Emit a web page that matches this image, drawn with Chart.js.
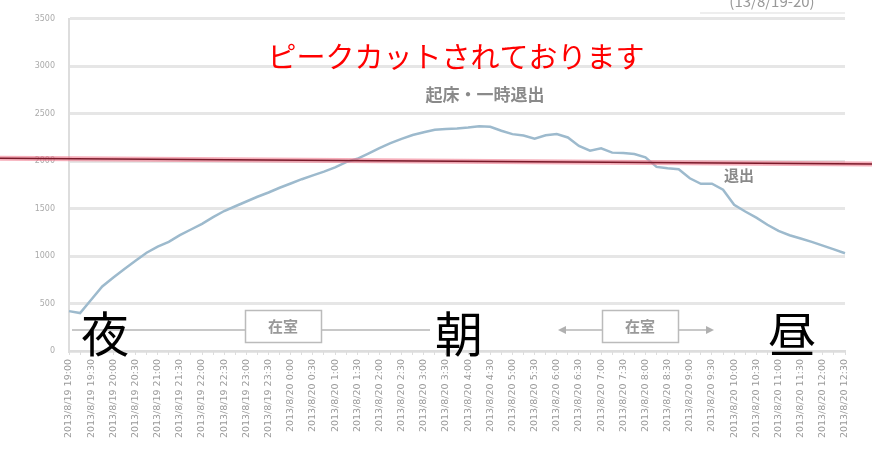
<!DOCTYPE html>
<html lang="ja">
<head>
  <meta charset="UTF-8">
  <title>ピークカット</title>
  <script src="https://cdn.jsdelivr.net/npm/chart.js"></script>
  <style>
    body { margin: 0; padding: 0; background: #fff; }
    .chart-container { width: 872px; height: 453px; }
  </style>
</head>
<body>
  <div class="chart-container">
    <canvas id="peakChart"></canvas>
  </div>

  <script>
    // 15分ごとの時刻
    const times = [
      '2013/8/19 19:00', '2013/8/19 19:15', '2013/8/19 19:30', '2013/8/19 19:45',
      '2013/8/19 20:00', '2013/8/19 20:15', '2013/8/19 20:30', '2013/8/19 20:45',
      '2013/8/19 21:00', '2013/8/19 21:15', '2013/8/19 21:30', '2013/8/19 21:45',
      '2013/8/19 22:00', '2013/8/19 22:15', '2013/8/19 22:30', '2013/8/19 22:45',
      '2013/8/19 23:00', '2013/8/19 23:15', '2013/8/19 23:30', '2013/8/19 23:45',
      '2013/8/20 0:00', '2013/8/20 0:15', '2013/8/20 0:30', '2013/8/20 0:45',
      '2013/8/20 1:00', '2013/8/20 1:15', '2013/8/20 1:30', '2013/8/20 1:45',
      '2013/8/20 2:00', '2013/8/20 2:15', '2013/8/20 2:30', '2013/8/20 2:45',
      '2013/8/20 3:00', '2013/8/20 3:15', '2013/8/20 3:30', '2013/8/20 3:45',
      '2013/8/20 4:00', '2013/8/20 4:15', '2013/8/20 4:30', '2013/8/20 4:45',
      '2013/8/20 5:00', '2013/8/20 5:15', '2013/8/20 5:30', '2013/8/20 5:45',
      '2013/8/20 6:00', '2013/8/20 6:15', '2013/8/20 6:30', '2013/8/20 6:45',
      '2013/8/20 7:00', '2013/8/20 7:15', '2013/8/20 7:30', '2013/8/20 7:45',
      '2013/8/20 8:00', '2013/8/20 8:15', '2013/8/20 8:30', '2013/8/20 8:45',
      '2013/8/20 9:00', '2013/8/20 9:15', '2013/8/20 9:30', '2013/8/20 9:45',
      '2013/8/20 10:00', '2013/8/20 10:15', '2013/8/20 10:30', '2013/8/20 10:45',
      '2013/8/20 11:00', '2013/8/20 11:15', '2013/8/20 11:30', '2013/8/20 11:45',
      '2013/8/20 12:00', '2013/8/20 12:15', '2013/8/20 12:30'
    ];

    const usage = [
      420, 400, 540, 680, 775, 865, 950, 1035, 1100, 1150,
      1220, 1280, 1340, 1410, 1475, 1525, 1575, 1625, 1670, 1720,
      1765, 1810, 1850, 1890, 1935, 1990, 2025, 2080, 2138, 2190,
      2235, 2275, 2305, 2330, 2340, 2345, 2355, 2368, 2362, 2320,
      2285, 2270, 2238, 2272, 2285, 2250, 2160, 2110, 2135, 2090,
      2085, 2075, 2040, 1940, 1925, 1915, 1820, 1762, 1762, 1700,
      1540, 1470, 1405, 1330, 1265, 1220, 1185, 1150, 1110, 1070,
      1030
    ];

    // 赤線（ピークカットのライン） 左端と右端の値
    const peakLine = [2030, 1970];

    const yTicks = [0, 500, 1000, 1500, 2000, 2500, 3000, 3500];

    const notes = {
      title: 'ピークカットされております',
      wake: '起床・一時退出',
      out: '退出',
      stay: '在室',
      period: '(13/8/19-20)',
      marks: ['夜', '朝', '昼']
    };

    const overlay = {
      id: 'overlay',
      afterDraw(chart) {
        const c = chart.ctx;
        const y = chart.scales.y;
        const W = chart.width;
        c.save();

        // 期間
        c.font = '15px "Noto Sans CJK JP"';
        c.fillStyle = '#999';
        c.textAlign = 'center';
        c.textBaseline = 'middle';
        c.fillText(notes.period, 772, 1);
        c.strokeStyle = '#ddd';
        c.lineWidth = 1;
        c.beginPath();
        c.moveTo(700, 13); c.lineTo(845, 13);
        c.stroke();

        // 赤線
        const y0 = y.getPixelForValue(peakLine[0]);
        const y1 = y.getPixelForValue(peakLine[1]);
        c.strokeStyle = 'rgba(240,120,140,0.6)';
        c.lineWidth = 5;
        c.beginPath(); c.moveTo(0, y0); c.lineTo(W, y1); c.stroke();
        c.strokeStyle = '#7a1a2a';
        c.lineWidth = 1.5;
        c.beginPath(); c.moveTo(0, y0); c.lineTo(W, y1); c.stroke();

        // 赤い見出し
        c.font = '29px "Noto Sans CJK JP"';
        c.fillStyle = '#ff0000';
        c.textAlign = 'center';
        c.textBaseline = 'middle';
        c.fillText(notes.title, 456, 57);

        // 注記
        c.font = 'bold 17px "Noto Sans CJK JP"';
        c.fillStyle = '#8a8a8a';
        c.fillText(notes.wake, 485, 95);
        c.font = 'bold 15px "Noto Sans CJK JP"';
        c.fillText(notes.out, 739, 175);

        // 在室の矢印
        c.strokeStyle = '#c8c8c8';
        c.lineWidth = 2;
        c.beginPath(); c.moveTo(72, 330); c.lineTo(430, 330); c.stroke();
        c.beginPath(); c.moveTo(562, 330); c.lineTo(712, 330); c.stroke();
        c.fillStyle = '#b0b0b0';
        c.beginPath(); c.moveTo(558, 330); c.lineTo(566, 326); c.lineTo(566, 334); c.fill();
        c.beginPath(); c.moveTo(714, 330); c.lineTo(706, 326); c.lineTo(706, 334); c.fill();

        [[245, 310], [602, 310]].forEach(([bx, by]) => {
          c.fillStyle = '#fff';
          c.fillRect(bx, by, 76, 32);
          c.strokeStyle = '#bbb';
          c.lineWidth = 1.5;
          c.strokeRect(bx + 0.5, by + 0.5, 76, 32);
          c.fillStyle = '#999';
          c.font = 'bold 15px "Noto Sans CJK JP"';
          c.fillText(notes.stay, bx + 38, by + 16);
        });

        // 夜・朝・昼
        c.font = '48px "Noto Sans CJK JP"';
        c.fillStyle = '#000';
        c.fillText(notes.marks[0], 105, 334);
        c.fillText(notes.marks[1], 459, 334);
        c.fillText(notes.marks[2], 792, 334);

        c.restore();
      }
    };

    const ctx = document.getElementById('peakChart').getContext('2d');
    new Chart(ctx, {
      type: 'line',
      data: {
        labels: times,
        datasets: [{
          data: usage,
          borderColor: '#9dbacd',
          borderWidth: 2.5,
          pointRadius: 0,
          tension: 0,
          fill: false
        }]
      },
      options: {
        responsive: true,
        maintainAspectRatio: false,
        animation: false,
        layout: { padding: { top: 17, right: 27, bottom: 2, left: 0 } },
        plugins: {
          legend: { display: false },
          tooltip: { enabled: false }
        },
        scales: {
          y: {
            min: 0,
            max: 3500,
            afterFit(scale) { scale.width = 69; },
            afterBuildTicks(scale) { scale.ticks = yTicks.map(v => ({ value: v })); },
            border: { color: '#ddd', width: 2 },
            grid: { color: '#e6e6e6', lineWidth: 3, drawTicks: false },
            ticks: {
              color: '#aaa',
              padding: 14,
              font: { size: 8, family: 'DejaVu Sans' },
              callback(v) { return String(v); }
            }
          },
          x: {
            offset: false,
            afterFit(scale) { scale.height = 100; },
            border: { color: '#ddd', width: 2 },
            grid: { drawOnChartArea: false, color: '#ddd', tickLength: 4 },
            ticks: {
              autoSkip: false,
              maxRotation: 90,
              minRotation: 90,
              color: '#999',
              padding: 4,
              font: { size: 9.5, family: 'DejaVu Sans' },
              callback(v, i) { return i % 2 === 0 ? times[i] : ''; }
            }
          }
        }
      },
      plugins: [overlay]
    });
  </script>
</body>
</html>
